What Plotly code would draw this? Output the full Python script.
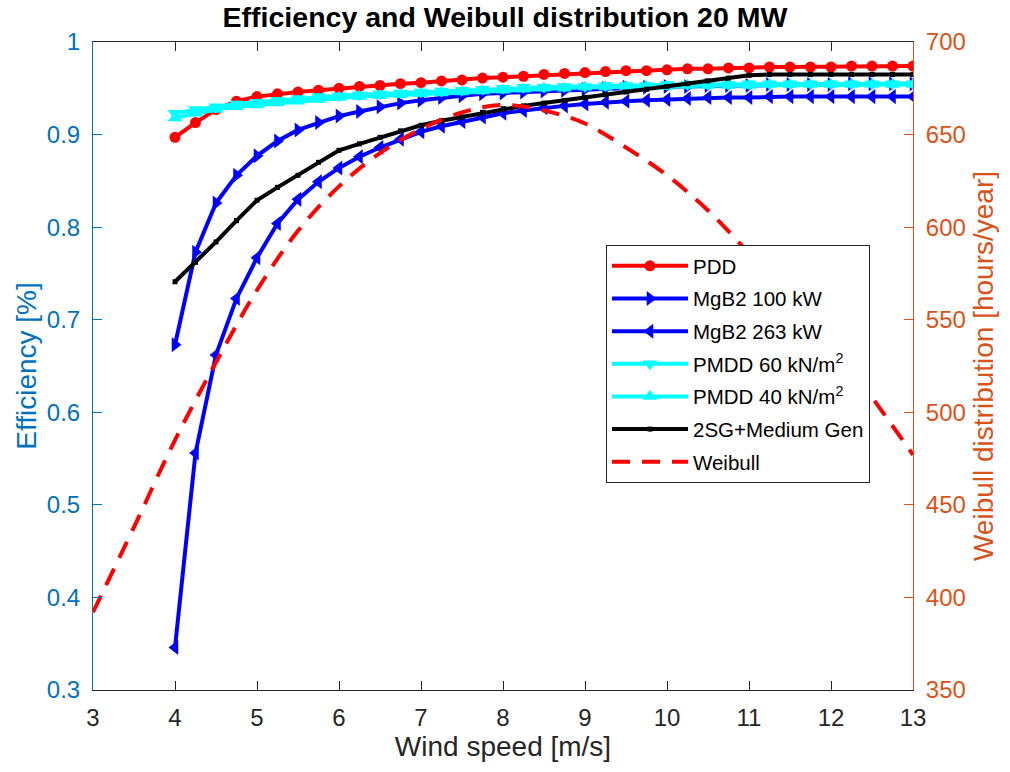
import plotly.graph_objects as go

# ---- data ----
wind = [4.0, 4.25, 4.5, 4.75, 5.0, 5.25, 5.5, 5.75, 6.0, 6.25, 6.5, 6.75, 7.0, 7.25, 7.5, 7.75,
        8.0, 8.25, 8.5, 8.75, 9.0, 9.25, 9.5, 9.75, 10.0, 10.25, 10.5, 10.75, 11.0, 11.25, 11.5,
        11.75, 12.0, 12.25, 12.5, 12.75, 13.0]

pdd = [0.897, 0.913, 0.927, 0.936, 0.941, 0.944, 0.946, 0.948, 0.950, 0.952, 0.953, 0.955, 0.956,
       0.958, 0.959, 0.961, 0.962, 0.963, 0.965, 0.966, 0.967, 0.968, 0.969, 0.969, 0.970, 0.971,
       0.971, 0.972, 0.972, 0.973, 0.973, 0.973, 0.973, 0.974, 0.974, 0.974, 0.974]

mgb2_100 = [0.673, 0.773, 0.826, 0.856, 0.877, 0.893, 0.905, 0.913, 0.920, 0.925, 0.930, 0.934,
            0.937, 0.940, 0.942, 0.944, 0.945, 0.946, 0.947, 0.948, 0.949, 0.950, 0.951, 0.951,
            0.952, 0.952, 0.953, 0.953, 0.953, 0.954, 0.954, 0.954, 0.954, 0.955, 0.955, 0.955, 0.955]

mgb2_263 = [0.346, 0.556, 0.662, 0.723, 0.767, 0.804, 0.830, 0.849, 0.864, 0.876, 0.886, 0.895,
            0.903, 0.909, 0.914, 0.919, 0.923, 0.926, 0.929, 0.931, 0.933, 0.935, 0.936, 0.937,
            0.938, 0.939, 0.940, 0.940, 0.940, 0.941, 0.941, 0.941, 0.941, 0.941, 0.941, 0.941, 0.941]

pmdd_60 = [0.923, 0.927, 0.930, 0.933, 0.935, 0.937, 0.939, 0.941, 0.942, 0.943, 0.944, 0.945,
           0.946, 0.947, 0.948, 0.949, 0.950, 0.951, 0.951, 0.952, 0.952, 0.953, 0.953, 0.953,
           0.954, 0.954, 0.954, 0.954, 0.955, 0.955, 0.955, 0.955, 0.955, 0.955, 0.955, 0.955, 0.955]

pmdd_40 = [0.918, 0.923, 0.927, 0.930, 0.932, 0.934, 0.936, 0.938, 0.940, 0.941, 0.942, 0.943,
           0.944, 0.945, 0.946, 0.947, 0.948, 0.949, 0.950, 0.950, 0.951, 0.951, 0.952, 0.952,
           0.952, 0.953, 0.953, 0.953, 0.953, 0.954, 0.954, 0.954, 0.954, 0.954, 0.954, 0.954, 0.954]

sg2_medium = [0.741, 0.762, 0.784, 0.807, 0.829, 0.843, 0.856, 0.870, 0.883, 0.890, 0.897, 0.904,
              0.910, 0.915, 0.919, 0.924, 0.928, 0.931, 0.934, 0.937, 0.940, 0.943, 0.946, 0.949,
              0.952, 0.955, 0.958, 0.961, 0.964, 0.965, 0.965, 0.965, 0.965, 0.965, 0.965, 0.965, 0.965]

weibull_wind = [3.0, 3.5, 4.0, 4.5, 5.0, 5.5, 6.0, 6.5, 7.0, 7.5, 8.0, 8.5, 9.0, 9.5, 10.0, 10.5,
                11.0, 11.5, 12.0, 12.5, 13.0]
weibull_hours = [392, 438, 485, 527, 566, 598, 622, 640, 653, 662, 666, 663, 656, 643, 628, 609,
                 586, 563, 537, 508, 477]

x_ticks = [3, 4, 5, 6, 7, 8, 9, 10, 11, 12, 13]
y1_ticks = [0.3, 0.4, 0.5, 0.6, 0.7, 0.8, 0.9, 1.0]
y1_labels = ["0.3", "0.4", "0.5", "0.6", "0.7", "0.8", "0.9", "1"]
y2_ticks = [350, 400, 450, 500, 550, 600, 650, 700]

# ---- styles ----
BLUE_AX = "#0072BD"
ORANGE_AX = "#D95319"
DARK = "#262626"
FONT = "Liberation Sans, Arial, sans-serif"
LW = 4
TICK_FS = 24
LABEL_FS = 28

fig = go.Figure()

series = [
    (pdd, "PDD", "#FF0000", "circle", 11),
    (mgb2_100, "MgB2 100 kW", "#0000FF", "triangle-right", 13),
    (mgb2_263, "MgB2 263 kW", "#0000FF", "triangle-left", 13),
    (pmdd_60, "PMDD 60 kN/m<sup>2</sup>", "#00FFFF", "triangle-down", 13),
    (pmdd_40, "PMDD 40 kN/m<sup>2</sup>", "#00FFFF", "triangle-up", 13),
    (sg2_medium, "2SG+Medium Gen", "#000000", "square", 5),
]
for i, (vals, name, col, sym, sz) in enumerate(series):
    fig.add_trace(go.Scatter(x=wind, y=vals, name=name, mode="lines+markers",
                             legendgroup=f"g{i}",
                             line=dict(color=col, width=LW),
                             marker=dict(symbol=sym, size=sz, color=col)))

fig.add_trace(go.Scatter(x=weibull_wind, y=weibull_hours, name="Weibull", mode="lines",
                         yaxis="y2", legendgroup="g6",
                         line=dict(color="#FF0000", width=LW, dash="18px,12px", shape="spline")))

fig.update_layout(
    width=1010, height=772,
    margin=dict(l=93, r=97, t=42, b=82),
    paper_bgcolor="white", plot_bgcolor="white",
    font=dict(family=FONT, size=TICK_FS, color=DARK),
    title=dict(text="<b>Efficiency and Weibull distribution 20 MW</b>",
               x=0.5, xanchor="center", y=1 - 17 / 772, yanchor="middle", yref="container",
               font=dict(family=FONT, size=28.5, color="#000000")),
    xaxis=dict(range=[3, 13], tickvals=x_ticks, ticks="inside", ticklen=9, tickcolor=DARK,
               showline=True, linecolor=DARK, linewidth=1, mirror="ticks", showgrid=False,
               zeroline=False, tickfont=dict(size=TICK_FS, color=DARK), ticklabelstandoff=6,
               title=dict(text="Wind speed [m/s]", font=dict(size=LABEL_FS, color=DARK), standoff=3)),
    yaxis=dict(range=[0.3, 1.0], tickvals=y1_ticks, ticktext=y1_labels,
               ticks="inside", ticklen=9, tickcolor=BLUE_AX,
               showline=True, linecolor=BLUE_AX, linewidth=1, showgrid=False, zeroline=False,
               tickfont=dict(size=TICK_FS, color=BLUE_AX), ticklabelstandoff=7,
               title=dict(text="Efficiency [%]", font=dict(size=LABEL_FS, color=BLUE_AX), standoff=2)),
    yaxis2=dict(range=[350, 700], tickvals=y2_ticks, overlaying="y", side="right",
                ticks="inside", ticklen=9, tickcolor=ORANGE_AX,
                showline=True, linecolor=ORANGE_AX, linewidth=1, showgrid=False, zeroline=False,
                tickfont=dict(size=TICK_FS, color=ORANGE_AX), ticklabelstandoff=7,
                title=dict(text="Weibull distribution [hours/year]",
                           font=dict(size=LABEL_FS, color=ORANGE_AX), standoff=8)),
    legend=dict(x=0.6256, y=0.6867, xanchor="left", yanchor="top",
                bgcolor="white", bordercolor=DARK, borderwidth=1,
                font=dict(family=FONT, size=20.5, color="#000000"),
                itemwidth=76, tracegroupgap=3),
    showlegend=True,
)

fig.write_html("out.html")
